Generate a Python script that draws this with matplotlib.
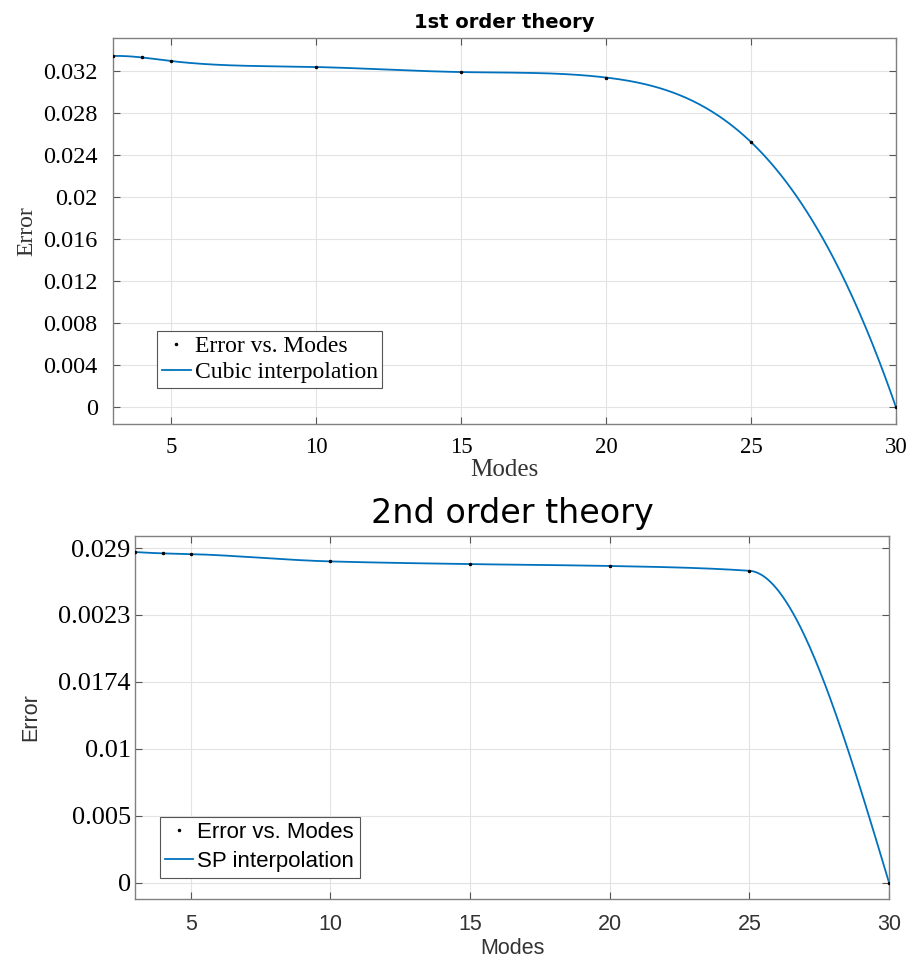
import numpy as np
import matplotlib.pyplot as plt

# data
modes = [3, 4, 5, 10, 15, 20, 25, 30]
err_1st = [0.03343, 0.03329, 0.03295, 0.03238, 0.0319, 0.03138, 0.02524, 0.0]
err_2nd = [0.0247, 0.0246, 0.02455, 0.0240, 0.0238, 0.02366, 0.0233, 0.0]

yticks_1st = [0, 0.004, 0.008, 0.012, 0.016, 0.02, 0.024, 0.028, 0.032]
yticks_1st_lbl = ['0', '0.004', '0.008', '0.012', '0.016', '0.02', '0.024', '0.028', '0.032']
yticks_2nd = [0, 0.005, 0.01, 0.015, 0.02, 0.025]
yticks_2nd_lbl = ['0', '0.005', '0.01', '0.0174', '0.0023', '0.029']
xticks = [5, 10, 15, 20, 25, 30]

blue = '#0072BD'
edge = '#808080'


def spline_nak(x, y, xq):
    # cubic spline, not-a-knot ends (like matlab spline)
    x = np.asarray(x, float)
    y = np.asarray(y, float)
    n = len(x)
    h = np.diff(x)
    A = np.zeros((n, n))
    b = np.zeros(n)
    A[0, 0], A[0, 1], A[0, 2] = -h[1], h[0] + h[1], -h[0]
    A[-1, -3], A[-1, -2], A[-1, -1] = -h[-1], h[-2] + h[-1], -h[-2]
    for i in range(1, n - 1):
        A[i, i - 1] = h[i - 1]
        A[i, i] = 2 * (h[i - 1] + h[i])
        A[i, i + 1] = h[i]
        b[i] = 6 * ((y[i + 1] - y[i]) / h[i] - (y[i] - y[i - 1]) / h[i - 1])
    M = np.linalg.solve(A, b)
    k = np.clip(np.searchsorted(x, xq) - 1, 0, n - 2)
    t0 = x[k + 1] - xq
    t1 = xq - x[k]
    hk = h[k]
    return (M[k] * t0**3 / (6 * hk) + M[k + 1] * t1**3 / (6 * hk)
            + (y[k] / hk - M[k] * hk / 6) * t0 + (y[k + 1] / hk - M[k + 1] * hk / 6) * t1)


def pchip(x, y, xq):
    # shape-preserving piecewise cubic (like matlab pchip)
    x = np.asarray(x, float)
    y = np.asarray(y, float)
    n = len(x)
    h = np.diff(x)
    dl = np.diff(y) / h
    d = np.zeros(n)
    for k in range(1, n - 1):
        if dl[k - 1] * dl[k] > 0:
            w1 = 2 * h[k] + h[k - 1]
            w2 = h[k] + 2 * h[k - 1]
            d[k] = (w1 + w2) / (w1 / dl[k - 1] + w2 / dl[k])

    def end(h0, h1, d0, d1):
        s = ((2 * h0 + h1) * d0 - h0 * d1) / (h0 + h1)
        if np.sign(s) != np.sign(d0):
            s = 0
        elif np.sign(d0) != np.sign(d1) and abs(s) > abs(3 * d0):
            s = 3 * d0
        return s
    d[0] = end(h[0], h[1], dl[0], dl[1])
    d[-1] = end(h[-1], h[-2], dl[-1], dl[-2])
    k = np.clip(np.searchsorted(x, xq) - 1, 0, n - 2)
    t = (xq - x[k]) / h[k]
    h00 = 2 * t**3 - 3 * t**2 + 1
    h10 = t**3 - 2 * t**2 + t
    h01 = -2 * t**3 + 3 * t**2
    h11 = t**3 - t**2
    return h00 * y[k] + h10 * h[k] * d[k] + h01 * y[k + 1] + h11 * h[k] * d[k + 1]


xx = np.linspace(3, 30, 600)

fig = plt.figure(figsize=(9.11, 9.65), dpi=100)
ax1 = fig.add_axes([0.124, 0.5606, 0.8595, 0.4000])
ax2 = fig.add_axes([0.148, 0.0684, 0.828, 0.3762])

serif = 'Liberation Serif'
sans = 'Liberation Sans'

# --- top: 1st order ---
ax1.plot(modes, err_1st, '.', color='black', markersize=3, label='Error vs. Modes', zorder=3)
ax1.plot(xx, spline_nak(modes, err_1st, xx), color=blue, lw=1.3, label='Cubic interpolation')
ax1.set_xlim(3, 30)
ax1.set_ylim(-0.0016, 0.03514)
ax1.set_xticks(xticks)
ax1.set_xticklabels([str(t) for t in xticks], fontfamily=serif, fontsize=16.5)
ax1.set_yticks(yticks_1st)
ax1.set_yticklabels(yticks_1st_lbl, fontfamily=serif, fontsize=17.5)
ax1.tick_params(axis='x', pad=9)
ax1.tick_params(axis='y', pad=11)
ax1.set_xlabel('Modes', fontfamily=serif, fontsize=18, color='#333333', labelpad=1)
ax1.set_ylabel('Error', fontfamily=serif, fontsize=17, color='#333333', labelpad=4)
ax1.set_title('1st order theory', fontfamily='DejaVu Sans', fontweight='bold', fontsize=14, pad=7)
leg1 = ax1.legend(loc='lower left', bbox_to_anchor=(0.056, 0.094), prop={'family': serif, 'size': 17},
                  fancybox=False, framealpha=1, edgecolor='#555555', handlelength=1.25,
                  handletextpad=0.15, borderpad=0.2, labelspacing=0.17, borderaxespad=0)
leg1.get_frame().set_linewidth(0.8)

# --- bottom: 2nd order ---
ax2.plot(modes, err_2nd, '.', color='black', markersize=3, label='Error vs. Modes', zorder=3)
ax2.plot(xx, pchip(modes, err_2nd, xx), color=blue, lw=1.3, label='SP interpolation')
ax2.set_xlim(3, 30)
ax2.set_ylim(-0.0012, 0.0259)
ax2.set_xticks(xticks)
ax2.set_xticklabels([str(t) for t in xticks], fontfamily=sans, fontsize=15.5, color='#333333')
ax2.set_yticks(yticks_2nd)
ax2.set_yticklabels(yticks_2nd_lbl, fontfamily=serif, fontsize=19)
ax2.tick_params(axis='x', pad=11)
ax2.tick_params(axis='y', pad=3)
ax2.set_xlabel('Modes', fontfamily=sans, fontsize=15.5, color='#333333', labelpad=2)
ax2.set_ylabel('Error', fontfamily=sans, fontsize=15.5, color='#333333', labelpad=12)
ax2.set_title('2nd order theory', fontfamily='DejaVu Sans', fontsize=24, pad=9)
leg2 = ax2.legend(loc='lower left', bbox_to_anchor=(0.033, 0.059), prop={'family': sans, 'size': 16},
                  fancybox=False, framealpha=1, edgecolor='#555555', handlelength=1.25,
                  handletextpad=0.2, borderpad=0.25, labelspacing=0.35, borderaxespad=0)
leg2.get_frame().set_linewidth(0.8)

for ax in (ax1, ax2):
    ax.grid(True, color='#e3e3e3', lw=0.8)
    ax.set_axisbelow(True)
    for s in ax.spines.values():
        s.set_color(edge)
        s.set_linewidth(1.0)
    ax.tick_params(direction='in', top=True, right=True, length=5, color='#555555')

fig.savefig('out.png', dpi=100)
